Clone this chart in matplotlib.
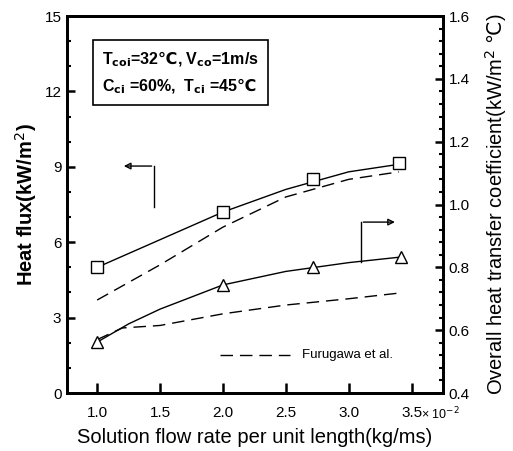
import matplotlib
matplotlib.use("Agg")
from matplotlib import pyplot as plt
from matplotlib.ticker import MultipleLocator

plt.rcParams['font.family'] = ['Liberation Sans', 'DejaVu Sans']

# measured points (x in 10^-2 kg/ms)
flux_x = [1.0, 2.0, 2.72, 3.4]
flux_y = [5.0, 7.2, 8.5, 9.15]
coef_x = [1.0, 2.0, 2.72, 3.42]
coef_y = [0.562, 0.744, 0.80, 0.833]

# fitted curves
flux_fit_x = [1.0, 1.5, 2.0, 2.5, 3.0, 3.4]
flux_fit_y = [5.0, 6.1, 7.2, 8.1, 8.8, 9.1]
coef_fit_x = [1.0, 1.25, 1.5, 2.0, 2.5, 3.0, 3.42]
coef_fit_y = [0.562, 0.62, 0.667, 0.744, 0.787, 0.815, 0.833]

# Furugawa et al.
furu_flux_x = [1.0, 1.5, 2.0, 2.5, 3.0, 3.4]
furu_flux_y = [3.7, 5.1, 6.6, 7.8, 8.5, 8.8]
furu_coef_x = [1.0, 1.2, 1.5, 2.0, 2.5, 3.0, 3.4]
furu_coef_y = [0.57, 0.607, 0.615, 0.652, 0.68, 0.70, 0.718]

fig = plt.figure(figsize=(5.13, 4.51), dpi=100)
ax = fig.add_axes([0.1306, 0.1286, 0.7329, 0.8359])
ax2 = ax.twinx()

ax.plot(flux_fit_x, flux_fit_y, color='black', lw=1.0)
ax.plot(furu_flux_x, furu_flux_y, color='black', lw=1.0, dashes=(9, 5))
ax.plot(flux_x, flux_y, ls='none', marker='s', ms=8, mfc='white', mec='black', mew=1.0)

ax2.plot(coef_fit_x, coef_fit_y, color='black', lw=1.0)
ax2.plot(furu_coef_x, furu_coef_y, color='black', lw=1.0, dashes=(9, 5))
ax2.plot(coef_x, coef_y, ls='none', marker='^', ms=9, mfc='white', mec='black', mew=1.0)

ax.set_xlim(0.76, 3.75)
ax.set_ylim(0, 15)
ax2.set_ylim(0.4, 1.6)
ax.set_xticks([1.0, 1.5, 2.0, 2.5, 3.0, 3.5])
ax.set_xticklabels(['1.0', '1.5', '2.0', '2.5', '3.0', '3.5'])
ax.yaxis.set_major_locator(MultipleLocator(3))
ax.yaxis.set_minor_locator(MultipleLocator(1))
ax2.yaxis.set_major_locator(MultipleLocator(0.2))
ax2.yaxis.set_minor_locator(MultipleLocator(0.04))
ax2.set_yticklabels(['%.1f' % v for v in ax2.get_yticks()])

for a in (ax, ax2):
    for s in a.spines.values():
        s.set_linewidth(2.0)
ax.tick_params(axis='x', direction='in', length=7, width=1.8, labelsize=11, pad=9)
ax.tick_params(axis='y', which='major', direction='in', length=6, width=1.8, labelsize=11, pad=4)
ax.tick_params(axis='y', which='minor', direction='in', length=3, width=1.5)
ax2.tick_params(axis='y', which='major', direction='in', length=6, width=1.8, labelsize=11, pad=4)
ax2.tick_params(axis='y', which='minor', direction='in', length=3, width=1.5)

ax.set_xlabel('Solution flow rate per unit length(kg/ms)', fontsize=14.5, labelpad=6)
ax.set_ylabel('Heat flux(kW/m$^2$)', fontsize=14.5, fontweight='bold', labelpad=4)
ax2.set_ylabel('Overall heat transfer coefficient(kW/m$^2$ $\\mathrm{\u2103}$)', fontsize=14.5, labelpad=10)

ax.text(3.575, -0.85, '\u00d7 10$^{-2}$', fontsize=9, ha='left', va='center')

# condition box
ax.text(1.04, 12.75,
        'T$_{\\mathbf{coi}}$=32$\\mathbf{\u2103}$, V$_{\\mathbf{co}}$=1m/s\n'
        'C$_{\\mathbf{ci}}$ =60%,  T$_{\\mathbf{ci}}$ =45$\\mathbf{\u2103}$',
        fontsize=11.5, fontweight='bold', va='center', ha='left', linespacing=1.55,
        bbox=dict(boxstyle='square,pad=0.55', fc='white', ec='black', lw=1.2))

# arrows pointing to the axes
ax.plot([1.45, 1.45], [7.4, 9.03], color='black', lw=1.0)
ax.annotate('', xy=(1.19, 9.03), xytext=(1.455, 9.03),
            arrowprops=dict(arrowstyle='-|>', color='black', lw=1.0, fill=False))
ax.plot([3.10, 3.10], [5.2, 6.8], color='black', lw=1.0)
ax.annotate('', xy=(3.39, 6.8), xytext=(3.095, 6.8),
            arrowprops=dict(arrowstyle='-|>', color='black', lw=1.0, fill=False))

# legend line
ax.plot([1.98, 2.53], [1.5, 1.5], color='black', lw=1.0, dashes=(9, 5))
ax.text(2.63, 1.5, 'Furugawa et al.', fontsize=9.5, va='center', ha='left')

fig.savefig('out.png', dpi=100)
